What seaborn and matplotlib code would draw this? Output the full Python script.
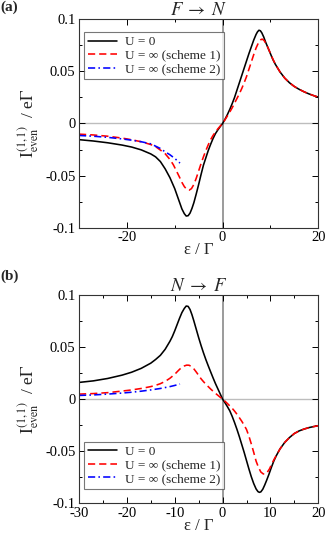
import matplotlib
matplotlib.use("Agg")
import matplotlib.pyplot as plt
from matplotlib.ticker import MultipleLocator
import seaborn as sns
import pandas as pd

# ---------------- data ----------------
# panel (a): F -> N
a_eps_u0 = [-30, -27, -24, -21, -19, -17, -15, -14, -13, -12, -11, -10, -9.5, -9, -8.5, -8, -7.6, -7.2,
            -6.8, -6.4, -6, -5.5, -5, -4.5, -4, -3.5, -3, -2.5, -2, -1.5, -1, -0.5,
            0, 0.5, 1, 1.5, 2, 2.5, 3, 3.5, 4, 4.5, 5, 5.5, 6, 6.5, 7, 7.3, 7.6, 7.9, 8.2, 8.6,
            9, 9.5, 10, 10.5, 11, 12, 13, 14, 15, 16, 17, 18, 19, 20]
a_val_u0 = [-0.0155, -0.0168, -0.0185, -0.0207, -0.0226, -0.0253, -0.0292, -0.0320, -0.0365, -0.0435,
            -0.0520, -0.0625, -0.0690, -0.0755, -0.0820, -0.0865, -0.0888, -0.0885,
            -0.0860, -0.0815, -0.0760, -0.0675, -0.0585, -0.0490, -0.0400, -0.0330, -0.0260,
            -0.0200, -0.0145, -0.0098, -0.0062, -0.0030,
            0.0, 0.0040, 0.0085, 0.0135, 0.0190, 0.0250, 0.0320, 0.0390, 0.0460, 0.0530, 0.0600,
            0.0670, 0.0735, 0.0800, 0.0855, 0.0880, 0.0895, 0.0890, 0.0870, 0.0830,
            0.0780, 0.0725, 0.0670, 0.0615, 0.0570, 0.0495, 0.0435, 0.0390, 0.0355, 0.0328,
            0.0305, 0.0285, 0.0268, 0.0253]
a_eps_s1 = [-30, -27, -24, -21, -19, -17, -15, -14, -13, -12, -11, -10.3, -9.7, -9, -8.5, -8, -7.5, -7,
            -6.5, -6, -5.5, -5, -4.5, -4, -3.5, -3, -2.5, -2, -1.5, -1, -0.5,
            0, 0.5, 1, 1.5, 2, 2.5, 3, 3.5, 4, 4.5, 5, 5.5, 6, 6.5, 7, 7.5, 8, 8.3, 8.7, 9.2, 9.7,
            10.2, 10.7, 11.2, 12, 13, 14, 15, 16, 17, 18, 19, 20]
a_val_s1 = [-0.0102, -0.0110, -0.0122, -0.0140, -0.0156, -0.0175, -0.0202, -0.0222, -0.0255, -0.0290,
            -0.0345, -0.0395, -0.0450, -0.0515, -0.0565, -0.0605, -0.0632, -0.0640,
            -0.0625, -0.0585, -0.0525, -0.0455, -0.0385, -0.0320, -0.0260, -0.0205, -0.0155,
            -0.0115, -0.0082, -0.0052, -0.0025,
            0.0, 0.0035, 0.0072, 0.0110, 0.0150, 0.0195, 0.0240, 0.0285, 0.0335, 0.0390, 0.0450,
            0.0520, 0.0590, 0.0660, 0.0725, 0.0775, 0.0805, 0.0810, 0.0795, 0.0755, 0.0705,
            0.0650, 0.0600, 0.0555, 0.0495, 0.0435, 0.0390, 0.0355, 0.0328, 0.0305, 0.0285,
            0.0268, 0.0253]
a_eps_s2 = [-30, -27, -24, -21, -19, -17, -15, -13, -12, -11, -10, -8.9]
a_val_s2 = [-0.0115, -0.0122, -0.0133, -0.0148, -0.0160, -0.0175, -0.0195, -0.0240, -0.0272,
            -0.0300, -0.0335, -0.0380]

# panel (b): N -> F
b_eps_u0 = [-30, -27, -24, -21, -19, -17, -15, -14, -13, -12, -11, -10.5, -10, -9.5, -9, -8.5, -8,
            -7.6, -7.2, -6.8, -6.4, -6, -5.5, -5, -4.5, -4, -3.5, -3, -2.5, -2, -1.5, -1, -0.5,
            0, 0.5, 1, 1.5, 2, 2.5, 3, 3.5, 4, 4.5, 5, 5.5, 6, 6.5, 7, 7.4, 7.7, 8, 8.4, 8.8,
            9.2, 9.7, 10.2, 10.7, 11.2, 12, 13, 14, 15, 16, 17, 18, 19, 20]
b_val_u0 = [0.0160, 0.0175, 0.0198, 0.0230, 0.0258, 0.0295, 0.0345, 0.0380, 0.0420, 0.0478, 0.0555,
            0.0600, 0.0655, 0.0715, 0.0775, 0.0830, 0.0870,
            0.0893, 0.0890, 0.0860, 0.0810, 0.0750, 0.0670, 0.0590, 0.0515, 0.0445, 0.0380,
            0.0320, 0.0262, 0.0205, 0.0150, 0.0100, 0.0050,
            0.0, -0.0035, -0.0072, -0.0112, -0.0165, -0.0225, -0.0290, -0.0360, -0.0435, -0.0510,
            -0.0590, -0.0670, -0.0745, -0.0810, -0.0862, -0.0888, -0.0895, -0.0890, -0.0865,
            -0.0825, -0.0780, -0.0720, -0.0655, -0.0595, -0.0545, -0.0478, -0.0415, -0.0368,
            -0.0330, -0.0305, -0.0288, -0.0274, -0.0264, -0.0255]
b_eps_s1 = [-30, -27, -24, -21, -19, -17, -15, -14, -13, -12, -11, -10, -9.5, -9, -8.5, -8, -7.5, -7,
            -6.5, -6, -5.5, -5, -4.5, -4, -3.5, -3, -2.5, -2, -1.5, -1, -0.5,
            0, 0.5, 1, 1.5, 2, 2.5, 3, 3.5, 4, 4.5, 5, 5.5, 6, 6.5, 7, 7.5, 8, 8.5, 8.9, 9.3, 9.8,
            10.3, 10.8, 11.3, 12, 13, 14, 15, 16, 17, 18, 19, 20]
b_val_s1 = [0.0048, 0.0053, 0.0062, 0.0077, 0.0088, 0.0102, 0.0120, 0.0132, 0.0148, 0.0170, 0.0200,
            0.0238, 0.0262, 0.0285, 0.0305, 0.0318, 0.0326, 0.0325,
            0.0312, 0.0290, 0.0260, 0.0228, 0.0195, 0.0168, 0.0143, 0.0120, 0.0097, 0.0076,
            0.0056, 0.0037, 0.0018,
            0.0, -0.0020, -0.0042, -0.0065, -0.0088, -0.0115, -0.0145, -0.0178, -0.0212, -0.0250,
            -0.0292, -0.0355, -0.0430, -0.0510, -0.0595, -0.0655, -0.0700, -0.0718, -0.0720,
            -0.0705, -0.0670, -0.0620, -0.0575, -0.0535, -0.0478, -0.0415, -0.0368, -0.0330,
            -0.0305, -0.0288, -0.0274, -0.0264, -0.0255]
b_eps_s2 = [-30, -27, -24, -21, -19, -17, -15, -13, -11, -10, -8.9]
b_val_s2 = [0.0035, 0.0040, 0.0048, 0.0058, 0.0066, 0.0076, 0.0088, 0.0102, 0.0120, 0.0131, 0.0145]

series_labels = ["U = 0", "U = \u221e (scheme 1)", "U = \u221e (scheme 2)"]
panel_titles = [r"$F\;\rightarrow\;N$", r"$N\;\rightarrow\;F$"]
panel_tags = ["(a)", "(b)"]
ytick_vals = [-0.1, -0.05, 0, 0.05, 0.1]
ytick_labels = ["-0.1", "-0.05", "0", "0.05", "0.1"]
a_xtick_vals = [-20, 0, 20]
a_xtick_labels = ["-20", "0", "20"]
b_xtick_vals = [-30, -20, -10, 0, 10, 20]
b_xtick_labels = ["-30", "-20", "-10", "0", "10", "20"]

# ---------------- style ----------------
sns.set_theme(style="ticks")
plt.rcParams["font.family"] = ["Liberation Serif", "DejaVu Serif"]
plt.rcParams["mathtext.fontset"] = "stix"
plt.rcParams["axes.linewidth"] = 0.8

W, H = 327, 533
fig = plt.figure(figsize=(W / 100, H / 100), dpi=100)
left = 79 / W
width = 239.3 / W
height = 208.4 / H
ax_a = fig.add_axes([left, 1 - 227.7 / H, width, height])
ax_b = fig.add_axes([left, 1 - 503.3 / H, width, height])

styles = [
    dict(color="black", ls="-"),
    dict(color="#ff0000", ls=(0, (4.5, 2.5))),
    dict(color="#0000ff", ls=(0, (4.5, 2, 1, 2))),
]


def draw(ax, data, xticks, xlabels, xminor, title, tag, tag_y, legend_loc, legend_anchor):
    ax.axhline(0, color="#bdbdbd", lw=1.0, zorder=0)
    ax.axvline(0, color="#808080", lw=1.1, zorder=0)
    for (eps, val), lab, st in zip(data, series_labels, styles):
        df = pd.DataFrame({"eps": eps, "I": val})
        sns.lineplot(data=df, x="eps", y="I", ax=ax, color=st["color"], linestyle=st["ls"],
                     lw=1.15, label=lab)
    ax.set_xlim(-30, 20)
    ax.set_ylim(-0.1, 0.1)
    ax.set_xticks(xticks)
    ax.set_xticklabels(xlabels)
    ax.set_yticks(ytick_vals)
    ax.set_yticklabels(ytick_labels)
    ax.xaxis.set_minor_locator(MultipleLocator(xminor))
    ax.yaxis.set_minor_locator(MultipleLocator(0.025))
    ax.tick_params(which="both", direction="in", top=True, right=True, labelsize=10.5,
                   colors="black", width=0.7, pad=2.5)
    ax.tick_params(which="major", length=4.5)
    ax.tick_params(which="minor", length=2.5)
    for s in ax.spines.values():
        s.set_color("#333333")
    ax.set_xlabel("\u03b5 / \u0393", fontsize=12, labelpad=-1.5)
    ax.set_ylabel(r"$\mathrm{I}_{\mathrm{even}}^{(1,1)}$  / e$\Gamma$", fontsize=12.5)
    ax.yaxis.set_label_coords(-0.16, 0.5)
    ax.set_title(title, fontsize=13.5, pad=2)
    fig.text(0.002, tag_y, tag, fontsize=11, fontweight="bold", va="top", ha="left")
    leg = ax.legend(loc=legend_loc, bbox_to_anchor=legend_anchor, borderaxespad=0,
                    frameon=True, fancybox=False, fontsize=9.5, handlelength=2.2,
                    handletextpad=0.6, borderpad=0.3, labelspacing=0.1)
    leg.get_frame().set_edgecolor("#555555")
    leg.get_frame().set_linewidth(0.8)


draw(ax_a, [(a_eps_u0, a_val_u0), (a_eps_s1, a_val_s1), (a_eps_s2, a_val_s2)],
     a_xtick_vals, a_xtick_labels, 10, panel_titles[0], panel_tags[0], 1 - 1 / H,
     "upper left", (0.021, 0.939))
draw(ax_b, [(b_eps_u0, b_val_u0), (b_eps_s1, b_val_s1), (b_eps_s2, b_val_s2)],
     b_xtick_vals, b_xtick_labels, 5, panel_titles[1], panel_tags[1], 1 - 270 / H,
     "lower left", (0.021, 0.069))

fig.savefig("out.png", dpi=100)
